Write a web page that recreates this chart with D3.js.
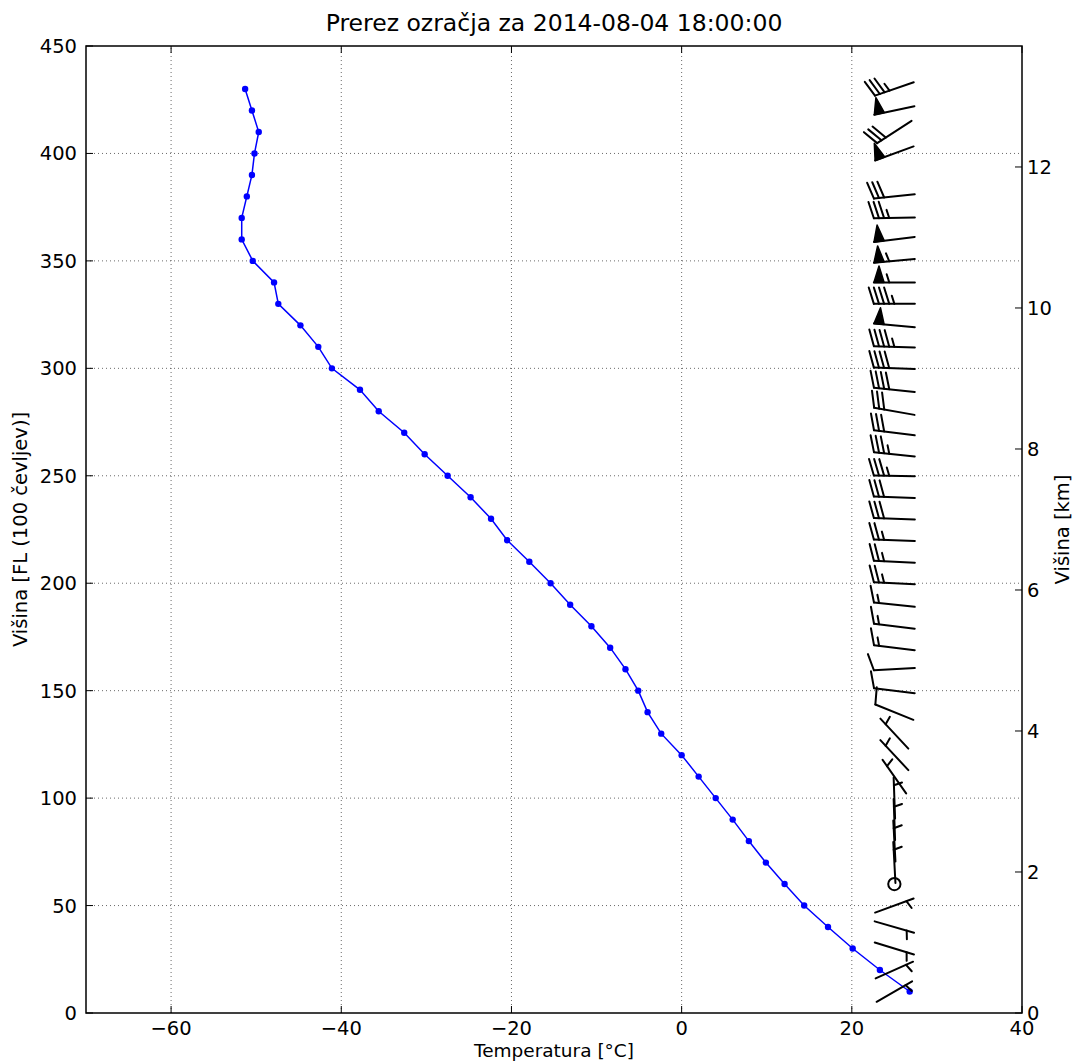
<!DOCTYPE html>
<html>
<head>
<meta charset="utf-8">
<script src="https://cdn.jsdelivr.net/npm/d3@7/dist/d3.min.js"></script>
<style>
  body { margin: 0; background: #fff; }
  svg { font-family: "DejaVu Sans", sans-serif; }
</style>
</head>
<body>
<svg id="chart" width="1075" height="1061"></svg>
<script>
// flight levels (100 ft) of the sounding
const flLevels = [10, 20, 30, 40, 50, 60, 70, 80, 90, 100, 110, 120, 130, 140, 150, 160, 170, 180, 190, 200,
  210, 220, 230, 240, 250, 260, 270, 280, 290, 300, 310, 320, 330, 340, 350, 360, 370, 380, 390, 400, 410, 420, 430];

// temperature [°C]
const temps = [26.8, 23.3, 20.1, 17.2, 14.4, 12.1, 9.9, 7.9, 6.0, 4.0, 2.0, 0.0, -2.4, -4.0, -5.1, -6.6, -8.4,
  -10.6, -13.1, -15.4, -17.9, -20.5, -22.4, -24.8, -27.5, -30.2, -32.6, -35.6, -37.8, -41.1, -42.7, -44.8,
  -47.4, -47.9, -50.4, -51.7, -51.7, -51.1, -50.5, -50.2, -49.7, -50.5, -51.3];

// wind: direction it blows from [deg] and speed [kt]; null = no report
const windDir = [60, 66, 107, 106, 70, 0, 357, 357, 358, 358, 325, 317, 317, 292, 277, 267, 277, 277, 276, 273,
  273, 272, 272, 272, 271, 276, 277, 280, 276, 272, 272, 275, 270, 270, 265, 263, 269, 264, null, 250, 237, 258, 251];
const windSpeed = [5, 5, 5, 5, 5, 0, 5, 5, 5, 5, 5, 5, 5, 10, 10, 10, 15, 15, 15, 25, 25, 25, 30, 30, 35, 35,
  30, 30, 40, 40, 45, 50, 45, 55, 55, 50, 35, 30, null, 50, 30, 50, 35];
const barbX = 25;

const xTicks = [-60, -40, -20, 0, 20, 40];
const yTicks = [0, 50, 100, 150, 200, 250, 300, 350, 400, 450];
const kmTicks = [0, 2, 4, 6, 8, 10, 12];

const svg = d3.select('#chart');
const W = 1075, H = 1061;
const m = { left: 86, right: 53, top: 46, bottom: 48 };
const x0 = m.left, x1 = W - m.right, y0 = H - m.bottom, y1 = m.top;

const x = d3.scaleLinear().domain([-70, 40]).range([x0, x1]);
const y = d3.scaleLinear().domain([0, 450]).range([y0, y1]);
const yKm = d3.scaleLinear().domain([0, 450 * 0.03048]).range([y0, y1]);

const fmt = d => (d < 0 ? '\u2212' + Math.abs(d) : '' + d);

// grid
const grid = svg.append('g').attr('stroke', '#444').attr('stroke-width', 0.8).attr('stroke-dasharray', '1,3');
grid.selectAll('.gx').data(xTicks.filter(t => t > -70 && t < 40)).join('line')
  .attr('x1', d => x(d)).attr('x2', d => x(d)).attr('y1', y0).attr('y2', y1);
grid.selectAll('.gy').data(yTicks.filter(t => t > 0 && t < 450)).join('line')
  .attr('y1', d => y(d)).attr('y2', d => y(d)).attr('x1', x0).attr('x2', x1);

// temperature profile
const pts = flLevels.map((fl, i) => ({ fl, t: temps[i] }));
svg.append('path').datum(pts)
  .attr('fill', 'none').attr('stroke', '#0000ff').attr('stroke-width', 1.5)
  .attr('d', d3.line().x(d => x(d.t)).y(d => y(d.fl)));
svg.selectAll('.dot').data(pts).join('circle')
  .attr('cx', d => x(d.t)).attr('cy', d => y(d.fl)).attr('r', 3.2).attr('fill', '#0000ff');

// wind barbs (matplotlib style, pivot in the middle)
const L = 41, fullH = 0.4 * L, fullW = 0.25 * L, spacing = 0.125 * L;
function barb(px, py, dir, speed) {
  const g = svg.append('g');
  const mag = 5 * Math.floor(speed / 5 + 0.5);
  const nFlags = Math.floor(mag / 50), nBarbs = Math.floor((mag % 50) / 10), half = (mag % 10) >= 5;
  if (nFlags + nBarbs === 0 && !half) {
    g.append('circle').attr('cx', px).attr('cy', py).attr('r', 0.15 * L)
      .attr('fill', 'none').attr('stroke', '#000').attr('stroke-width', 2);
    return;
  }
  const phi = (90 - dir) * Math.PI / 180;
  const u = [Math.cos(phi), Math.sin(phi)], p = [Math.sin(phi), -Math.cos(phi)];
  const tr = ([lx, ly]) => [px + lx * p[0] + ly * u[0], py - (lx * p[1] + ly * u[1])];
  const endy = -L / 2;
  const lines = [[[0, endy], [0, endy + L]]];
  const polys = [];
  let off = L;
  for (let i = 0; i < nFlags; i++) {
    if (off !== L) off += spacing / 2;
    polys.push([[0, endy + off], [fullH, endy - fullW / 2 + off], [0, endy - fullW + off]]);
    off -= fullW + spacing;
  }
  for (let i = 0; i < nBarbs; i++) {
    lines.push([[0, endy + off], [fullH, endy + off + fullW / 2]]);
    off -= spacing;
  }
  if (half) {
    if (off === L) off -= 1.5 * spacing;
    lines.push([[0, endy + off], [fullH / 2, endy + off + fullW / 4]]);
  }
  polys.forEach(poly => g.append('path').attr('d', d3.line()(poly.map(tr)) + 'Z')
    .attr('fill', '#000').attr('stroke', '#000').attr('stroke-width', 1.5).attr('stroke-linejoin', 'round'));
  lines.forEach(ln => g.append('path').attr('d', d3.line()(ln.map(tr)))
    .attr('fill', 'none').attr('stroke', '#000').attr('stroke-width', 2).attr('stroke-linecap', 'round'));
}
flLevels.forEach((fl, i) => {
  if (windDir[i] === null || windSpeed[i] === null) return;
  barb(x(barbX), y(fl), windDir[i], windSpeed[i]);
});

// frame
svg.append('rect').attr('x', x0).attr('y', y1).attr('width', x1 - x0).attr('height', y0 - y1)
  .attr('fill', 'none').attr('stroke', '#000').attr('stroke-width', 1.5);

// ticks (inward) and labels
const tk = 7;
const ticks = svg.append('g').attr('stroke', '#000').attr('stroke-width', 1);
xTicks.forEach(t => {
  ticks.append('line').attr('x1', x(t)).attr('x2', x(t)).attr('y1', y0).attr('y2', y0 - tk);
  ticks.append('line').attr('x1', x(t)).attr('x2', x(t)).attr('y1', y1).attr('y2', y1 + tk);
});
yTicks.forEach(t => ticks.append('line').attr('x1', x0).attr('x2', x0 + tk).attr('y1', y(t)).attr('y2', y(t)));
kmTicks.forEach(t => ticks.append('line').attr('x1', x1).attr('x2', x1 - tk).attr('y1', yKm(t)).attr('y2', yKm(t)));

const fs = 19.5;
svg.selectAll('.xl').data(xTicks).join('text')
  .attr('x', d => x(d)).attr('y', y0 + 22).attr('text-anchor', 'middle').attr('font-size', fs).text(fmt);
svg.selectAll('.yl').data(yTicks).join('text')
  .attr('x', x0 - 9).attr('y', d => y(d)).attr('dy', '0.36em').attr('text-anchor', 'end').attr('font-size', fs).text(fmt);
svg.selectAll('.kl').data(kmTicks).join('text')
  .attr('x', x1 + 5).attr('y', d => yKm(d)).attr('dy', '0.36em').attr('text-anchor', 'start').attr('font-size', fs).text(fmt);

svg.append('text').attr('x', (x0 + x1) / 2).attr('y', 31).attr('text-anchor', 'middle')
  .attr('font-size', 23.5).text('Prerez ozračja za 2014-08-04 18:00:00');
svg.append('text').attr('x', (x0 + x1) / 2).attr('y', 1057).attr('text-anchor', 'middle')
  .attr('font-size', 18.5).text('Temperatura [°C]');
svg.append('text').attr('transform', `translate(27,${(y0 + y1) / 2}) rotate(-90)`).attr('text-anchor', 'middle')
  .attr('font-size', fs).text('Višina [FL (100 čevljev)]');
svg.append('text').attr('transform', `translate(1069,${(y0 + y1) / 2}) rotate(-90)`).attr('text-anchor', 'middle')
  .attr('font-size', fs).text('Višina [km]');
</script>
</body>
</html>
